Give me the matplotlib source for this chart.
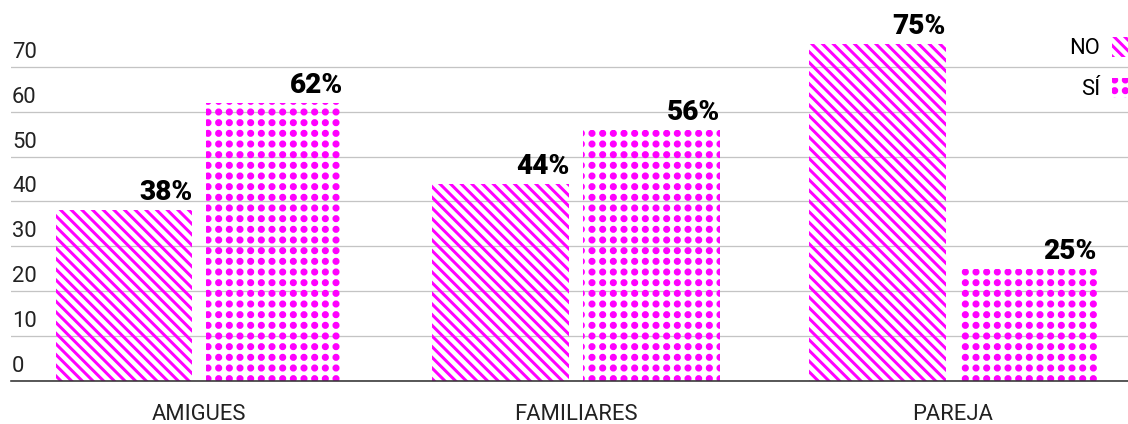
import numpy as np
import matplotlib
matplotlib.use("Agg")
import matplotlib.pyplot as plt
from matplotlib import hatch as mhatch
from matplotlib.path import Path
from matplotlib.transforms import blended_transform_factory

categories = ["AMIGUES", "FAMILIARES", "PAREJA"]
no_vals = [38, 44, 75]
si_vals = [62, 56, 25]
series_names = ["NO", "SÍ"]
yticks = [0, 10, 20, 30, 40, 50, 60, 70]

MAGENTA = "#ff00ff"
DPI = 64
PX = 72 / DPI  # points per pixel


# square grid of filled dots instead of the small staggered ones
class GridDots(mhatch.HatchPatternBase):
    size = 0.19

    def __init__(self, hatch, density):
        self.num_rows = int(hatch.count(".") * density)
        circle = Path.unit_circle()
        self.shape_vertices = circle.vertices
        self.shape_codes = circle.codes
        self.num_vertices = self.num_rows ** 2 * len(self.shape_vertices)

    def set_vertices_and_codes(self, vertices, codes):
        offset = 1.0 / self.num_rows
        verts = self.shape_vertices * offset * self.size
        n = len(verts)
        k = 0
        centers = (np.arange(self.num_rows) + 0.5) * offset
        for y in centers:
            for x in centers:
                vertices[k:k + n] = verts + (x, y)
                codes[k:k + n] = self.shape_codes
                k += n


mhatch._hatch_types = [GridDots if t is mhatch.SmallFilledCircles else t
                       for t in mhatch._hatch_types]

plt.rcParams["font.family"] = ["Roboto", "DejaVu Sans"]
plt.rcParams["hatch.linewidth"] = 3.0 * PX
plt.rcParams["hatch.color"] = MAGENTA

fig = plt.figure(figsize=(1128 / DPI, 424 / DPI), dpi=DPI)
ax = fig.add_axes([11 / 1128, 43 / 424, 1 - 11 / 1128, 381 / 424])

x = np.arange(len(categories))
w = 0.363
b_no = ax.bar(x - 0.2, no_vals, w, facecolor="none", edgecolor=MAGENTA,
              linewidth=0, hatch="\\\\", label=series_names[0], zorder=2)
b_si = ax.bar(x + 0.2, si_vals, w, facecolor="none", edgecolor=MAGENTA,
              linewidth=0, hatch=".", label=series_names[1], zorder=2)

for bars, vals in ((b_no, no_vals), (b_si, si_vals)):
    for r, v in zip(bars, vals):
        ax.annotate(f"{v}%", (r.get_x() + r.get_width(), v),
                    xytext=(0, 4 * PX), textcoords="offset points",
                    ha="right", va="bottom", fontsize=28 * PX,
                    fontweight="heavy", color="black")

ax.set_xlim(-0.5, 2.465)
ax.set_ylim(0, 84.9)

ax.set_yticks(yticks)
ax.set_yticklabels([])
ax.tick_params(axis="y", length=0)
ax.grid(axis="y", color="#c4c4c4", linewidth=1.3 * PX, zorder=0)
ax.set_axisbelow(True)
trans = blended_transform_factory(ax.transAxes, ax.transData)
for t in yticks:
    ax.annotate(str(t), (0, t), xycoords=trans, xytext=(1 * PX, 4 * PX),
                textcoords="offset points", ha="left", va="bottom",
                fontsize=22 * PX, color="#222222")

ax.set_xticks(x)
ax.set_xticklabels(categories, fontsize=22 * PX, color="#222222")
ax.tick_params(axis="x", length=0, pad=23 * PX)

for s in ("left", "right", "top"):
    ax.spines[s].set_visible(False)
ax.spines["bottom"].set_color("#333333")
ax.spines["bottom"].set_linewidth(1.6 * PX)
ax.spines["bottom"].set_zorder(3)

fig.legend(loc="upper right", bbox_to_anchor=(1.0 + 4 / 1128, 1 - 37 / 424),
           frameon=False, markerfirst=False, fontsize=22 * PX,
           handlelength=0.9, handleheight=1.0, handletextpad=0.55,
           labelspacing=0.85, borderpad=0, borderaxespad=0)

fig.savefig("out.png", dpi=DPI)
